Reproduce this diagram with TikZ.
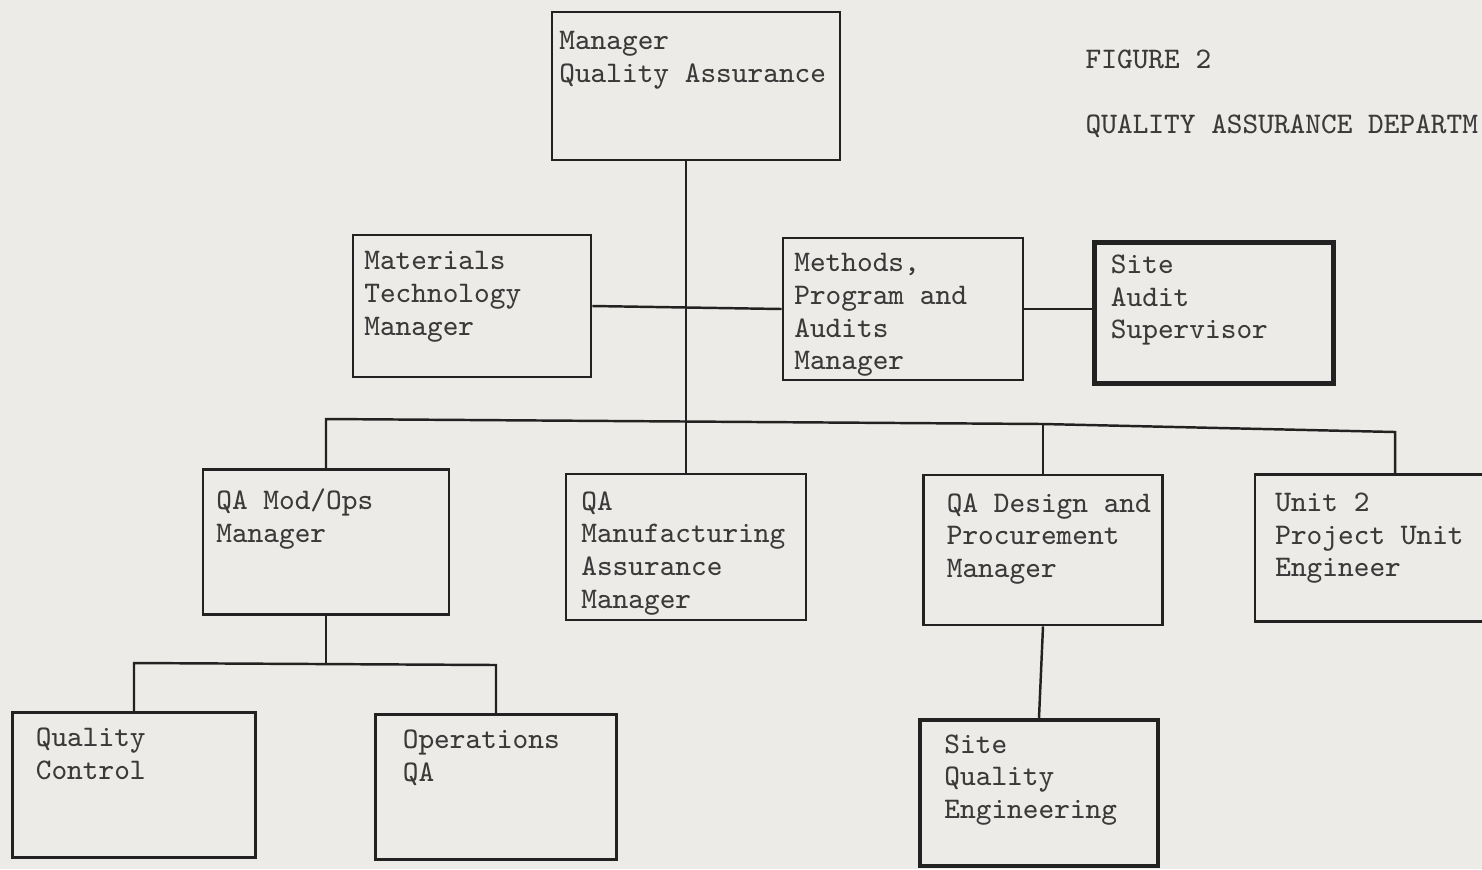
\documentclass[tikz,border=0pt]{standalone}
\usepackage{fontspec}
\definecolor{paper}{HTML}{ECEBE7}
\definecolor{ink}{HTML}{222222}
\definecolor{txt}{HTML}{3A3A3A}
\begin{document}
\begin{tikzpicture}[x=0.01cm, y=-0.01cm]
	\tikzset{
		box/.style={draw=ink, line width=0.75pt, inner sep=0pt},
		heavy/.style={box, line width=1.25pt},
		note/.style={anchor=north west, align=left, inner sep=0pt, text=txt,
				font=\fontsize{8.5}{9.3}\ttfamily},
		link/.style={draw=ink, line width=0.7pt},
	}
	\useasboundingbox (0,0) rectangle (1482,869);
	\fill[paper] (0,0) rectangle (1482,869);
	\clip (0,0) rectangle (1482,869);

	% top level
	\node[box, minimum width=2.88cm, minimum height=1.48cm,
		label={[note, xshift=0.08cm, yshift=-0.2cm]north west:{Manager\\Quality Assurance}}]
		(mqa) at (696,86) {};
	\node[note, anchor=base west] (fig) at (1085,68) {FIGURE 2};
	\node[note, anchor=base west] (title) at (1085,133) {QUALITY ASSURANCE DEPARTM};

	% staff row
	\node[box, minimum width=2.38cm, minimum height=1.42cm,
		label={[note, xshift=0.12cm, yshift=-0.17cm]north west:{Materials\\Technology\\Manager}}]
		(mtm) at (472,306) {};
	\node[box, minimum width=2.40cm, minimum height=1.42cm,
		label={[note, xshift=0.12cm, yshift=-0.16cm]north west:{Methods,\\Program and\\Audits\\Manager}}]
		(mpa) at (903,309) {};
	\node[heavy, minimum width=2.39cm, minimum height=1.41cm,
		label={[note, xshift=0.18cm, yshift=-0.14cm]north west:{Site\\Audit\\Supervisor}}]
		(sas) at (1214,313) {};

	% line managers
	\node[box, minimum width=2.46cm, minimum height=1.45cm,
		label={[note, xshift=0.14cm, yshift=-0.2cm]north west:{QA Mod/Ops\\Manager}}]
		(qmo) at (326,542) {};
	\node[box, minimum width=2.40cm, minimum height=1.46cm,
		label={[note, xshift=0.16cm, yshift=-0.18cm]north west:{QA\\Manufacturing\\Assurance\\Manager}}]
		(qama) at (686,547) {};
	\node[box, minimum width=2.39cm, minimum height=1.50cm,
		label={[note, xshift=0.24cm, yshift=-0.19cm]north west:{QA Design and\\Procurement\\Manager}}]
		(qdp) at (1043,550) {};
	\node[box, minimum width=2.40cm, minimum height=1.47cm,
		label={[note, xshift=0.21cm, yshift=-0.19cm]north west:{Unit 2\\Project Unit\\Engineer}}]
		(u2) at (1375,548) {};

	% bottom row
	\node[box, minimum width=2.43cm, minimum height=1.45cm,
		label={[note, xshift=0.24cm, yshift=-0.16cm]north west:{Quality\\Control}}]
		(qc) at (134,785) {};
	\node[box, minimum width=2.41cm, minimum height=1.45cm,
		label={[note, xshift=0.28cm, yshift=-0.16cm]north west:{Operations\\QA}}]
		(oqa) at (496,787) {};
	\node[heavy, minimum width=2.38cm, minimum height=1.46cm,
		label={[note, xshift=0.26cm, yshift=-0.16cm]north west:{Site\\Quality\\Engineering}}]
		(sqe) at (1039,793) {};

	% connectors
	\coordinate (busL) at (qmo.north |- 0,419);
	\coordinate (busR) at (qdp.north |- 0,424);
	\coordinate (busE) at (1395,432);
	\coordinate (subL) at (qc.north |- 0,663);
	\coordinate (subR) at (oqa.north |- 0,665);
	\draw[link] (qama.north |- mqa.south) -- (qama.north);
	\draw[link] (mtm.east) -- (mpa.west);
	\draw[link] (mpa.east) -- (mpa.east -| sas.west);
	\draw[link] (qmo.north) -- (busL) -- (busR) -- (busE) -- (busE |- u2.north);
	\draw[link] (qdp.north) -- (busR);
	\draw[link] (qmo.south) -- (qmo.south |- subL);
	\draw[link] (qc.north) -- (subL) -- (subR) -- (oqa.north);
	\draw[link] (qdp.south) -- (sqe.north);
\end{tikzpicture}
\end{document}
